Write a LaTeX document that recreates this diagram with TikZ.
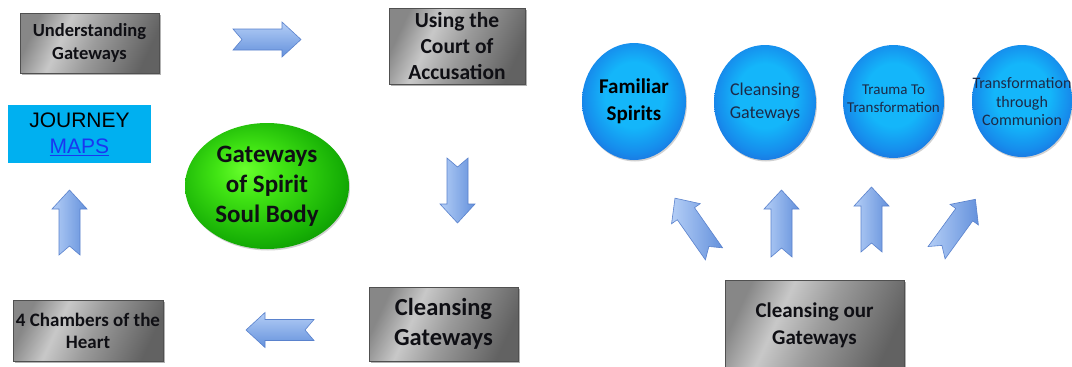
\documentclass[tikz,border=0pt]{standalone}
\usepackage{fontspec}
\setmainfont{Carlito}
\newfontfamily\arialf{Liberation Sans}
\usetikzlibrary{shadows,shapes.geometric}

\definecolor{gA}{RGB}{135,135,135}
\definecolor{gB}{RGB}{200,200,200}
\definecolor{gC}{RGB}{155,155,155}
\definecolor{gD}{RGB}{98,98,98}
\definecolor{gborder}{RGB}{80,80,80}
\definecolor{bA}{RGB}{20,182,250}
\definecolor{bB}{RGB}{22,140,236}
\definecolor{bC}{RGB}{32,100,215}
\definecolor{grA}{RGB}{105,255,45}
\definecolor{grB}{RGB}{65,228,20}
\definecolor{grC}{RGB}{22,175,5}
\definecolor{grD}{RGB}{0,125,0}
\definecolor{arLight}{RGB}{180,206,246}
\definecolor{arDark}{RGB}{100,145,220}
\definecolor{arBorder}{RGB}{90,130,205}
\definecolor{jcyan}{RGB}{0,176,240}
\definecolor{mapsblue}{RGB}{25,55,240}
\definecolor{navytext}{RGB}{28,42,72}
\definecolor{boxtext}{RGB}{15,15,20}

\pgfdeclarehorizontalshading{grayshade}{100bp}{color(0bp)=(gA); color(25bp)=(gA); color(38bp)=(gB); color(52bp)=(gC); color(75bp)=(gD); color(100bp)=(gD)}
\pgfdeclareradialshading{blueshade}{\pgfpoint{0bp}{4bp}}{color(0bp)=(bA); color(14bp)=(bA); color(24bp)=(bB); color(31bp)=(bC); color(50bp)=(bC)}
\pgfdeclareradialshading{greenshade}{\pgfpoint{-7bp}{7bp}}{color(0bp)=(grA); color(10bp)=(grB); color(26bp)=(grC); color(38bp)=(grD); color(50bp)=(grD)}

\newcommand{\fsz}[2]{\fontsize{#1}{#2}\selectfont}

\tikzset{
  graybox/.style={rectangle, draw=gborder, line width=0.6pt, shading=grayshade, shading angle=-25,
    inner sep=0pt, align=center, text=boxtext,
    drop shadow={shadow xshift=1.5pt, shadow yshift=-1.5pt, opacity=0.3, fill=black}},
  bluecirc/.style={ellipse, inner sep=0pt, shading=blueshade, draw=none,
    drop shadow={shadow xshift=1pt, shadow yshift=-1.5pt, opacity=0.18, fill=black}},
  greencirc/.style={ellipse, inner sep=0pt, shading=greenshade, draw=none,
    drop shadow={shadow xshift=1pt, shadow yshift=-1.5pt, opacity=0.18, fill=black}},
  circtext/.style={inner sep=0pt, align=center},
  arrowstyle/.style={draw=arBorder, line width=0.6pt, top color=arLight, bottom color=arDark, line join=miter}
}

\newcommand{\barrow}[5]{%
  \begin{scope}[shift={(#1,#2)}, rotate=#3]
    \path[arrowstyle, shading angle=#5]
      (-#4,-10.5) -- (#4-19,-10.5) -- (#4-19,-17.5) -- (#4,0) -- (#4-19,17.5)
      -- (#4-19,10.5) -- (-#4,10.5) -- (-#4+9,0) -- cycle;
  \end{scope}}

\begin{document}
\begin{tikzpicture}[x=1pt,y=-1pt]
\useasboundingbox (0,0) rectangle (1072,367);
\fill[white] (0,0) rectangle (1072,367);

% left cycle boxes
\node[graybox, minimum width=139pt, minimum height=60pt, font=\bfseries\fsz{18.5}{23}] (under) at (89.5,43) {Understanding\\Gateways};
\node[graybox, minimum width=136pt, minimum height=76pt, font=\bfseries\fsz{21.5}{26}] (court) at (457,46) {Using the\\Court of\\Accusation};
\node[graybox, minimum width=149pt, minimum height=74pt, font=\bfseries\fsz{24.5}{30}] (cleanbox) at (443.5,324) {Cleansing\\Gateways};
\node[graybox, minimum width=150pt, minimum height=61pt, font=\bfseries\fsz{19}{22}] (chambers) at (88,330.5) {4 Chambers of the\\Heart};

% journey maps
\node[rectangle, fill=jcyan, inner sep=0pt, minimum width=143pt, minimum height=58pt, align=center,
      font=\arialf\fsz{21}{26}] (journey) at (79.5,134) {JOURNEY\\\textcolor{mapsblue}{\underline{MAPS}}};

% green centre
\node[greencirc, minimum width=164pt, minimum height=126pt] (green) at (267,186) {};
\node[circtext, font=\bfseries\fsz{25}{30}, text=boxtext] (greentext) at (green.center) {Gateways\\of Spirit\\Soul Body};

% cycle arrows
\barrow{267}{39.5}{0}{34}{0}
\barrow{457.5}{190.5}{-90}{32.5}{90}
\barrow{280}{330}{180}{34}{0}
\barrow{69.5}{222.5}{90}{32.5}{90}

% right side circles
\node[bluecirc, minimum width=104pt, minimum height=117pt] (fam) at (634,101.5) {};
\node[circtext, font=\bfseries\fsz{21}{27}, text=black] (famtext) at (fam.center) {Familiar\\Spirits};
\node[bluecirc, minimum width=102pt, minimum height=115pt] (cgw) at (765,102.5) {};
\node[circtext, font=\fsz{18}{23}, text=navytext] (cgwtext) at (cgw.center) {Cleansing\\Gateways};
\node[bluecirc, minimum width=101pt, minimum height=113pt] (trauma) at (893.5,101.5) {};
\node[circtext, font=\fsz{15}{18.5}, text=navytext] (traumatext) at ([yshift=3pt]trauma.center) {Trauma To\\Transformation};
\node[bluecirc, minimum width=100pt, minimum height=112pt] (comm) at (1022,101) {};
\node[circtext, font=\fsz{16}{18.5}, text=navytext] (commtext) at ([yshift=-1pt]comm.center) {Transformation\\through\\Communion};

% bottom right box
\node[graybox, minimum width=179pt, minimum height=90pt, font=\bfseries\fsz{21}{27}] (cleanour) at (814.5,325) {Cleansing our\\Gateways};

% fan arrows
\barrow{694.5}{226}{125}{34}{90}
\barrow{781.5}{223.5}{90}{33.5}{90}
\barrow{871.5}{219.5}{90}{32.5}{90}
\barrow{956}{226}{54}{33}{90}
\end{tikzpicture}
\end{document}
